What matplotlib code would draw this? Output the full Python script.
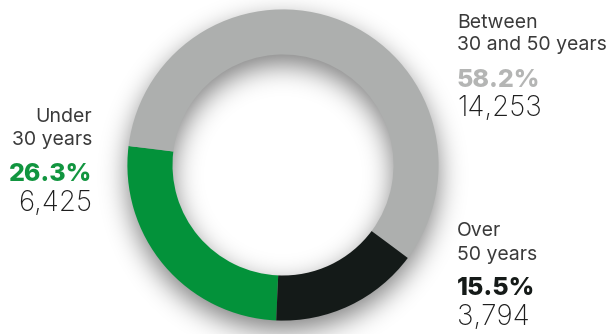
import numpy as np
import matplotlib
matplotlib.use("Agg")
import matplotlib.pyplot as plt

# Employees by age group
groups = ["Under\n30 years", "Between\n30 and 50 years", "Over\n50 years"]
counts = [6425, 14253, 3794]
colors = ["#03923a", "#adafae", "#141a18"]
pct_colors = ["#11953f", "#b4b5b4", "#151a18"]

W, H = 609, 334
fig = plt.figure(figsize=(W / 100, H / 100), dpi=100)
ax = fig.add_axes([0, 0, 1, 1])

cx, cy = 283.0, 165.0        # ring centre, pixels from top-left
r_out, r_in = 155.6, 110.5

# soft drop shadow under the ring
pad = 60
xs = np.arange(-pad, W + pad) + 0.5
ys = np.arange(-pad, H + pad) + 0.5
X, Y = np.meshgrid(xs, ys)
off = 10.0
R = np.hypot(X - cx, Y - (cy + off))
ring = np.clip(r_out - R + 0.5, 0, 1) * np.clip(R - r_in + 0.5, 0, 1)


def gauss_blur(a, sigma):
    n = int(3 * sigma)
    k = np.exp(-0.5 * (np.arange(-n, n + 1) / sigma) ** 2)
    k /= k.sum()
    a = np.apply_along_axis(lambda v: np.convolve(v, k, mode="same"), 0, a)
    a = np.apply_along_axis(lambda v: np.convolve(v, k, mode="same"), 1, a)
    return a


shadow = gauss_blur(ring, 13.0)[pad:pad + H, pad:pad + W]
rgba = np.zeros((H, W, 4))
rgba[..., 3] = 0.5 * shadow
ax.imshow(rgba, extent=(0, W, 0, H), origin="upper", zorder=0,
          interpolation="bilinear")

ax.pie(counts, colors=colors, startangle=267.5, counterclock=False,
       center=(cx, H - cy), radius=r_out,
       wedgeprops=dict(width=r_out - r_in, linewidth=0), frame=False)

ax.set_xlim(0, W)
ax.set_ylim(0, H)
ax.set_aspect("auto")
ax.axis("off")

total = sum(counts)
font = "Inter"
label_c = "#3a3a3a"
num_c = "#1e1e1e"

# (x, baselines of the four lines, alignment) for each group
blocks = [
    (92, [122, 145, 181, 211], "right"),
    (457, [28, 50, 87, 116], "left"),
    (457, [236, 260, 295, 325], "left"),
]

for (x, bl, ha), name, n, pc in zip(blocks, groups, counts, pct_colors):
    l1, l2 = name.split("\n")
    ax.text(x, H - bl[0], l1, ha=ha, va="baseline", fontsize=14,
            family=font, color=label_c)
    ax.text(x, H - bl[1], l2, ha=ha, va="baseline", fontsize=14,
            family=font, color=label_c)
    ax.text(x, H - bl[2], f"{n / total * 100:.1f}%", ha=ha, va="baseline",
            fontsize=18, family=font, weight="heavy", color=pc)
    ax.text(x, H - bl[3], f"{n:,}", ha=ha, va="baseline", fontsize=20,
            family=font, weight="light", color=num_c)

fig.savefig("out.png", dpi=100, facecolor="white")
